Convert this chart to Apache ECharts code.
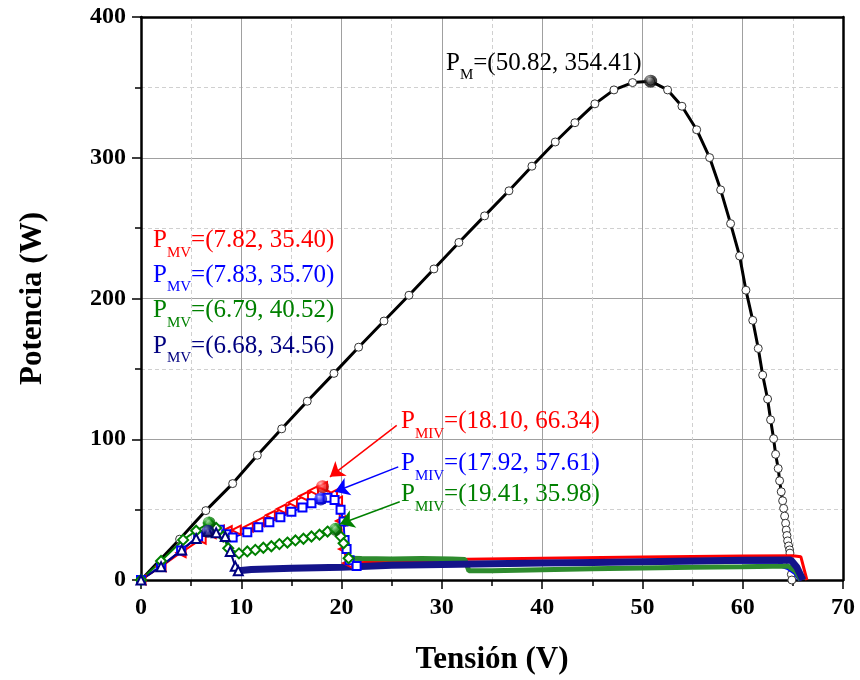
<!DOCTYPE html>
<html><head><meta charset="utf-8">
<script src="https://cdn.jsdelivr.net/npm/echarts@6/dist/echarts.min.js"></script>
<style>html,body{margin:0;padding:0;background:#fff}#c{width:860px;height:680px}</style>
</head><body><div id="c"></div>
<script>
// ---- data (V, W) ----
const xTicks = [0, 10, 20, 30, 40, 50, 60, 70];
const yTicks = [0, 100, 200, 300, 400];
const blackPts = [[0,0],[3.85,29],[6.46,49.3],[9.14,68.5],[11.6,88.6],[14.03,107.4],[16.58,127],[19.24,146.8],[21.7,165.4],[24.23,184],[26.72,202.3],[29.21,221],[31.7,239.8],[34.26,258.7],[36.69,276.5],[38.98,294],[41.31,311.2],[43.27,324.9],[45.26,338.3],[47.16,348.2],[49.02,353.4],[50.82,354.41],[52.51,348.2],[53.94,336.6],[55.41,319.9],[56.7,300.1],[57.8,277.2],[58.79,253.2],[59.69,230.2],[60.32,205.9],[61.0,184.5],[61.55,164.5],[61.99,145.6],[62.48,128.6],[62.78,113.8],[63.08,100.4],[63.28,89.3],[63.54,79.2],[63.68,70.5],[63.84,62.7],[63.98,56.3],[64.08,50.9],[64.18,45.4],[64.28,40.3],[64.34,35.5],[64.41,31.6],[64.48,27.8],[64.58,24.2],[64.68,21.4],[64.71,19.1],[64.78,12],[64.85,4],[64.9,0]];
const redRise = [[0,0],[2.0,9.5],[4.0,19.5],[6.0,29],[7.0,33],[7.82,35.4],[8.6,35.0],[9.5,35.5],[10.7,37.5],[11.8,41.5],[12.9,46],[14.0,50.5],[15.1,55],[16.2,59.5],[17.2,63.5],[18.1,66.34],[19.1,61],[19.6,56],[19.9,42],[20.2,22],[20.6,12]];
const blueRise = [[0,0],[2.0,10],[4.0,21],[5.7,31],[6.8,34.5],[7.83,35.7],[8.5,32.5],[9.14,30.2],[10.6,34],[11.7,37.5],[12.8,41],[13.9,44.5],[15.0,48.5],[16.1,51.5],[17.0,54.5],[17.92,57.61],[18.6,58.5],[19.3,56.8],[19.9,50],[20.2,41.5],[20.3,28.5],[20.5,22],[20.8,14],[21.5,10]];
const greenRise = [[0,0],[2.0,13.5],[4.2,28.5],[5.5,35],[6.79,40.52],[7.5,37],[8.2,30.9],[8.7,22.6],[9.77,18.9],[10.6,20.3],[11.4,21.4],[12.2,22.9],[13.0,24.0],[13.8,25.5],[14.6,26.6],[15.4,28.1],[16.2,29.3],[17.0,30.9],[17.8,32.2],[18.6,34.4],[19.41,35.98],[19.9,31],[20.2,26.1],[20.7,15.5]];
const navyRise = [[0,0],[2.0,9.5],[4.06,21.4],[5.5,29.5],[6.68,34.56],[7.5,33.5],[8.4,30.9],[8.9,20.3],[9.4,9.7],[9.7,6.5]];
const redBand = [[20.6,12],[25,13],[30,14],[32.5,14.8],[40,15.5],[50,16.3],[60,17],[65,17.2],[65.8,16.5],[66.4,0]];
const blueBand = [[21.5,10],[30,10.5],[40,11.5],[50,12.5],[60,13],[63.6,13],[64.0,9.7],[64.5,8.5],[65.2,5],[65.7,0]];
const greenBand = [[20.7,15.5],[22,15.2],[25,15],[28,15.3],[31,15],[32.3,14.5],[32.7,6.5],[35,6.5],[40,7.3],[45,8],[50,8.5],[55,9],[60,9.5],[64.5,10],[65.3,6],[65.8,0]];
const navyBand = [[9.7,6.5],[11,7.5],[15,8.3],[20,9],[25,10.5],[30,11],[35,11.5],[40,12],[45,12.5],[50,13],[55,13.5],[60,14],[64.8,14.2],[65.4,9],[66.0,0]];
const pmPt = [50.82, 354.41];
const mvV = [7.82, 7.83, 6.79, 6.68];
const mvP = [35.40, 35.70, 40.52, 34.56];
const mivV = [18.10, 17.92, 19.41];
const mivP = [66.34, 57.61, 35.98];

// ---- styling ----
const FONT = '"Liberation Serif","Times New Roman",serif';
const RED = '#ff0000', BLUE = '#0000ff', GREEN = '#008000', NAVY = '#000080';
const mvColors = [RED, BLUE, GREEN, NAVY];
const mivColors = [RED, BLUE, GREEN];
const ballShades = {
  '#000000': ['#bbbbbb', '#222222', '#000000'],
  '#ff0000': ['#ffb0b0', '#ff1a1a', '#a00000'],
  '#0000ff': ['#b0b0ff', '#1a1aff', '#0000a0'],
  '#008000': ['#a8e0a8', '#109010', '#004000'],
  '#000080': ['#9090d0', '#10108a', '#000040']
};
function ball(c) {
  const s = ballShades[c];
  return {type:'radial', x:0.35, y:0.3, r:0.75, colorStops:[{offset:0,color:s[0]},{offset:0.45,color:s[1]},{offset:1,color:s[2]}]};
}
const fmt = v => v.toFixed(2);

const balls = [];
balls.push({value: pmPt, itemStyle:{color: ball('#000000')}});
[2,3].forEach(i => balls.push({value:[mvV[i], mvP[i]], itemStyle:{color: ball(mvColors[i])}}));
[0,1,2].forEach(i => balls.push({value:[mivV[i], mivP[i]], itemStyle:{color: ball(mivColors[i])}}));

function richLabel(sub, txt, color, x, y) {
  return {
    type:'text', x:x, y:y, z:100,
    style:{
      text:'{p|P}{s|' + sub + '}{p|' + txt + '}',
      verticalAlign:'middle', align:'left',
      rich:{
        p:{fontFamily:FONT, fontSize:25, fill:color},
        s:{fontFamily:FONT, fontSize:15, fill:color, padding:[25,0,0,0]}
      }
    }
  };
}
const graphics = [];
graphics.push(richLabel('M', '=(' + fmt(pmPt[0]) + ', ' + fmt(pmPt[1]) + ')', '#000', 446, 63));
const mvY = [240.5, 275, 310.5, 346];
mvV.forEach((v,i) => graphics.push(richLabel('MV', '=(' + fmt(v) + ', ' + fmt(mvP[i]) + ')', mvColors[i], 153, mvY[i])));
const mivY = [421.7, 463.3, 494.3];
mivV.forEach((v,i) => graphics.push(richLabel('MIV', '=(' + fmt(v) + ', ' + fmt(mivP[i]) + ')', mivColors[i], 401, mivY[i])));

function lineSeries(data, color, width, symbol, size, extra) {
  return Object.assign({
    type:'line', data:data, showAllSymbol:true,
    symbol: symbol || 'none', symbolSize: size || 0,
    lineStyle:{color:color, width:width},
    itemStyle:{color:color, borderWidth:1.2},
    emphasis:{disabled:true}, silent:true
  }, extra || {});
}

const axisLabelStyle = {fontFamily:FONT, fontSize:24, fontWeight:'bold', color:'#000'};
const nameStyle = {fontFamily:FONT, fontSize:31, fontWeight:'bold', color:'#000'};

const option = {
  animation:false,
  backgroundColor:'#fff',
  grid:{left:141, right:17, top:17, bottom:98, containLabel:false},
  xAxis:[{
    type:'value', min:xTicks[0], max:xTicks[xTicks.length-1], interval:10,
    name:'Tensión (V)', nameLocation:'middle', nameGap:64, nameTextStyle:nameStyle,
    axisLine:{show:true, onZero:false, lineStyle:{color:'#000', width:2.5}},
    axisTick:{show:true, inside:false, length:9, lineStyle:{color:'#000', width:1.5}},
    minorTick:{show:true, splitNumber:2, length:6, lineStyle:{color:'#000', width:1.5}},
    axisLabel:Object.assign({margin:16}, axisLabelStyle),
    splitLine:{show:true, lineStyle:{color:'#a0a0a0', width:1}},
    minorSplitLine:{show:true, lineStyle:{color:'#d0d0d0', width:1, type:[4,3]}}
  },{
    type:'value', position:'top', min:xTicks[0], max:xTicks[xTicks.length-1],
    axisLine:{show:true, onZero:false, lineStyle:{color:'#000', width:2.5}},
    axisTick:{show:false}, axisLabel:{show:false}, splitLine:{show:false}
  }],
  yAxis:[{
    type:'value', min:yTicks[0], max:yTicks[yTicks.length-1], interval:100,
    name:'Potencia (W)', nameLocation:'middle', nameGap:93, nameTextStyle:nameStyle,
    axisLine:{show:true, onZero:false, lineStyle:{color:'#000', width:2.5}},
    axisTick:{show:true, inside:false, length:9, lineStyle:{color:'#000', width:1.5}},
    minorTick:{show:true, splitNumber:2, length:6, lineStyle:{color:'#000', width:1.5}},
    axisLabel:Object.assign({margin:15}, axisLabelStyle),
    splitLine:{show:true, lineStyle:{color:'#a0a0a0', width:1}},
    minorSplitLine:{show:true, lineStyle:{color:'#d0d0d0', width:1, type:[4,3]}}
  },{
    type:'value', position:'right', min:yTicks[0], max:yTicks[yTicks.length-1],
    axisLine:{show:true, onZero:false, lineStyle:{color:'#000', width:2.5}},
    axisTick:{show:false}, axisLabel:{show:false}, splitLine:{show:false}
  }],
  graphic: graphics,
  series:[
    lineSeries(blackPts, '#000', 3, 'circle', 8, {itemStyle:{color:'#fff', borderColor:'#333', borderWidth:1}, z:2}),
    lineSeries(redBand, RED, 3, 'none', 0, {z:3}),
    lineSeries(blueBand, BLUE, 4, 'none', 0, {z:3}),
    lineSeries(greenBand, '#2e8b2e', 5, 'none', 0, {z:3}),
    lineSeries(navyBand, '#14148a', 7, 'none', 0, {z:3}),
    lineSeries(redRise, RED, 2, 'emptyTriangle', 9, {symbolRotate:90, z:4,
      markLine:{silent:true, symbol:['none','arrow'], symbolSize:14, label:{show:false},
        data:[
          [{coord:[25.5,109.8], lineStyle:{color:RED, width:1.5, type:'solid'}}, {coord:[18.84,73.3]}],
          [{coord:[25.65,80.4], lineStyle:{color:BLUE, width:1.5, type:'solid'}}, {coord:[19.34,62.7]}],
          [{coord:[25.8,55.6], lineStyle:{color:GREEN, width:1.5, type:'solid'}}, {coord:[19.84,39.8]}]
        ]}}),
    lineSeries(blueRise, BLUE, 2, 'emptyRect', 8, {z:4}),
    lineSeries(greenRise, GREEN, 2, 'emptyDiamond', 10, {z:4}),
    lineSeries(navyRise, NAVY, 2, 'emptyTriangle', 9, {z:4}),
    {type:'scatter', data:balls, symbolSize:13, z:6, silent:true, emphasis:{disabled:true}}
  ]
};
const chart = echarts.init(document.getElementById('c'));
chart.setOption(option);
</script>
</body></html>
